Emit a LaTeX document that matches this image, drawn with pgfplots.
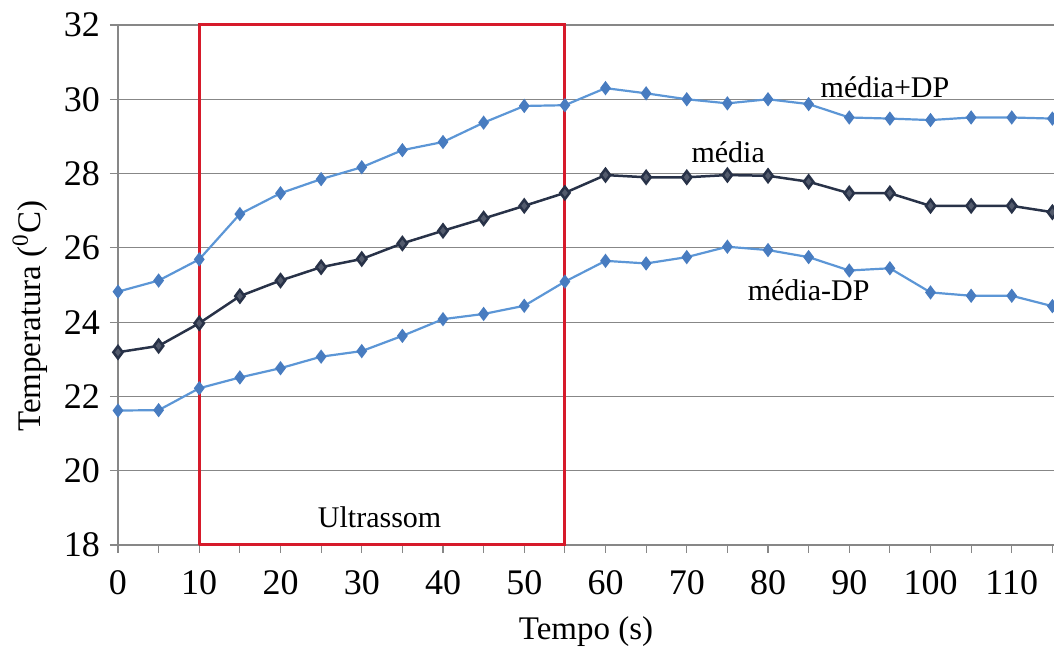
\documentclass[border=0pt]{standalone}
\usepackage{fontspec}
\setmainfont{Liberation Serif}
\usepackage{pgfplots}
\pgfplotsset{compat=1.18}
\definecolor{lb}{RGB}{92,150,214}
\definecolor{lbm}{RGB}{72,124,192}
\definecolor{db}{RGB}{40,50,72}
\definecolor{rr}{RGB}{214,26,42}
\definecolor{gr}{RGB}{135,135,135}
\begin{document}
\begin{tikzpicture}
\begin{axis}[name=ax,
 scale only axis, width=468pt, height=260pt,
 xmin=0, xmax=115.2, ymin=18, ymax=32,
 axis x line*=bottom, axis y line*=left,
 axis line style={gr, line width=0.6pt, -},
 xtick={0,10,...,110}, minor xtick={5,15,...,115},
 ytick={18,20,...,32},
 tick align=outside, major tick length=4pt, minor tick length=4pt,
 tick style={gr, line width=0.6pt},
 ymajorgrids, grid style={gr, line width=0.6pt},
 /pgf/number format/assume math mode=true,
 xticklabel={\pgfmathprintnumber{\tick}},
 yticklabel={\pgfmathprintnumber{\tick}},
 ticklabel style={font=\fontsize{18}{20}\selectfont},
 xticklabel style={yshift=-5pt},
 yticklabel style={xshift=-1.5pt},
 xlabel={Tempo (s)}, ylabel={Temperatura (\textsuperscript{0}C)},
 every axis x label/.style={at={(axis description cs:0.5,-0.167)}, anchor=center, font=\fontsize{16.5}{18}\selectfont},
 every axis y label/.style={at={(axis description cs:-0.094,0.44)}, rotate=90, anchor=center, font=\fontsize{16.5}{18}\selectfont},
 clip=false,
]
\addplot[rr, line width=1.5pt] coordinates {(10,18) (10,32) (55,32) (55,18) (10,18)};
\addplot[lb, line width=1.1pt, mark=diamond*, mark size=2.7pt, mark options={fill=lbm, draw=lbm}] coordinates {
(0,24.82) (5,25.12) (10,25.69) (15,26.91) (20,27.47) (25,27.85) (30,28.17) (35,28.63) (40,28.85) (45,29.37) (50,29.82) (55,29.84)
(60,30.30) (65,30.16) (70,30.00) (75,29.89) (80,30.00) (85,29.87) (90,29.51) (95,29.48) (100,29.44) (105,29.51) (110,29.51) (115,29.48)};
\addplot[db, line width=1.25pt, mark=diamond*, mark size=3.1pt, mark options={fill=db!80!white, draw=db}] coordinates {
(0,23.19) (5,23.36) (10,23.97) (15,24.70) (20,25.12) (25,25.48) (30,25.70) (35,26.12) (40,26.46) (45,26.79) (50,27.13) (55,27.48)
(60,27.96) (65,27.90) (70,27.90) (75,27.96) (80,27.94) (85,27.78) (90,27.47) (95,27.47) (100,27.13) (105,27.13) (110,27.13) (115,26.96)};
\addplot[lb, line width=1.1pt, mark=diamond*, mark size=2.7pt, mark options={fill=lbm, draw=lbm}] coordinates {
(0,21.62) (5,21.63) (10,22.22) (15,22.51) (20,22.76) (25,23.07) (30,23.22) (35,23.63) (40,24.08) (45,24.22) (50,24.44) (55,25.09)
(60,25.65) (65,25.58) (70,25.75) (75,26.03) (80,25.94) (85,25.75) (90,25.39) (95,25.45) (100,24.80) (105,24.71) (110,24.71) (115,24.43)};
\node[font=\fontsize{15}{17}\selectfont] at (axis cs:94.4,30.33) {média+DP};
\node[font=\fontsize{15}{17}\selectfont] at (axis cs:75.1,28.58) {média};
\node[font=\fontsize{15}{17}\selectfont] at (axis cs:85.0,24.86) {média-DP};
\node[font=\fontsize{15}{17}\selectfont] at (axis cs:32.2,18.75) {Ultrassom};
\end{axis}
\pgfresetboundingbox
\path ([xshift=-59pt,yshift=-55.5pt]ax.south west) rectangle ([yshift=12.5pt]ax.north east);
\end{tikzpicture}
\end{document}
